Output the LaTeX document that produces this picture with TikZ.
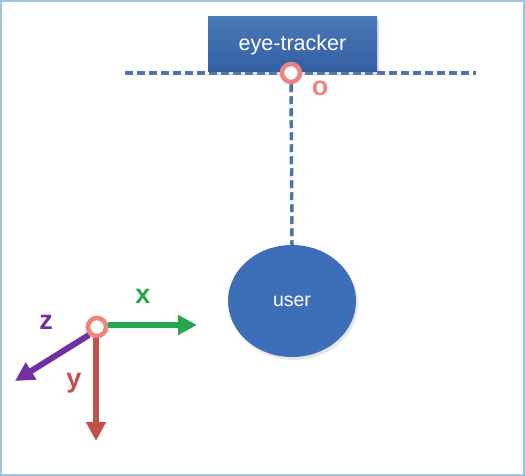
\documentclass[tikz,border=0pt]{standalone}
\usepackage{fontspec}
\setmainfont{Liberation Sans}
\usetikzlibrary{arrows.meta,shadows,shapes.geometric}
\definecolor{boxblue}{HTML}{3668B0}
\definecolor{userblue}{HTML}{3D6FB8}
\definecolor{dashblue}{HTML}{4A74B2}
\definecolor{ringred}{HTML}{EA8582}
\definecolor{xgreen}{HTML}{25A84C}
\definecolor{yred}{HTML}{C4504E}
\definecolor{zpurple}{HTML}{7030A0}
\definecolor{framecol}{HTML}{9DC3E6}
\tikzset{
  trackerbox/.style={rectangle, minimum width=169pt, minimum height=55pt, inner sep=0pt,
     top color=boxblue!90!white, bottom color=boxblue!92!black, draw=none,
     drop shadow={shadow xshift=2pt, shadow yshift=-3pt, opacity=0.25}},
  userell/.style={ellipse, minimum width=128pt, minimum height=112pt, inner sep=0pt,
     fill=userblue, draw=none,
     drop shadow={shadow xshift=2pt, shadow yshift=-3pt, opacity=0.2}},
  ring/.style={circle, draw=ringred, fill=white, line width=4.5pt, inner sep=0pt},
  dashline/.style={draw=dashblue, line width=3.5pt, dash pattern=on 8pt off 4pt},
  axis/.style={line width=6pt, -{Triangle[length=19pt,width=19pt]}},
  lbl/.style={font=\fontsize{27}{27}\selectfont\bfseries, inner sep=0pt},
}
\begin{document}
\begin{tikzpicture}[x=1pt,y=-1pt]
\useasboundingbox (0,0) rectangle (525,476);
\draw[framecol, line width=2.5pt] (1,1) rectangle (524,475);
% horizontal dashed line
\coordinate (hl) at (125,73);
\coordinate (hr) at (476,73);
\draw[dashline] (hl) -- (hr);
\node[trackerbox] (tracker) at (292.5,44.5) {\textcolor{white}{\fontsize{21.5}{21.5}\selectfont eye-tracker}};
\node[userell] (user) at (292,301) {\textcolor{white}{\fontsize{19.5}{19.5}\selectfont user}};
\node[ring, minimum size=18pt] (o) at (291,73) {};
\draw[dashline] (o.south) -- (user.north);
\node[text=ringred, font=\fontsize{27}{27}\selectfont\bfseries, inner sep=0pt] (olabel) at (320,88) {o};
% coordinate frame
\node[ring, minimum size=18pt] (orig) at (97,327) {};
\coordinate (xend) at (197,325);
\coordinate (yend) at (96,441);
\coordinate (zend) at (15,381);
\draw[axis, xgreen] (orig.east |- xend) -- (xend);
\draw[axis, yred] (orig.south -| yend) -- (yend);
\draw[axis, zpurple] (orig.south west) -- (zend);
\node[ring, minimum size=18pt] at (orig) {};
\node[lbl, text=xgreen] (xl) at (143,296) {x};
\node[lbl, text=zpurple] (zl) at (46,322) {z};
\node[lbl, text=yred] (yl) at (74,383) {y};
\end{tikzpicture}
\end{document}
